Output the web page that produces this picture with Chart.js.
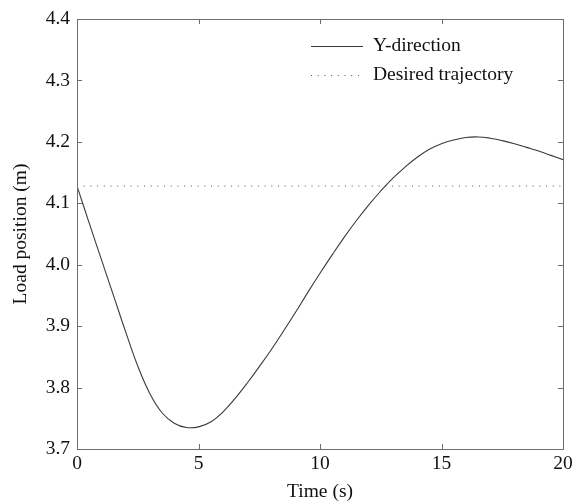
<!DOCTYPE html>
<html>
<head>
<meta charset="utf-8">
<script src="https://cdn.jsdelivr.net/npm/chart.js@4.4.0/dist/chart.umd.min.js"></script>
<style>
  html, body { margin: 0; padding: 0; background: #fff; }
  #wrap { width: 579px; height: 504px; }
</style>
</head>
<body>
<div id="wrap"><canvas id="chart" width="579" height="504"></canvas></div>
<script>
// data
const timeValues = [0, 0.5, 1, 1.5, 2, 2.5, 3, 3.5, 4, 4.5, 5, 5.5, 6, 6.5, 7, 7.5, 8, 8.5, 9, 9.5, 10,
  10.5, 11, 11.5, 12, 12.5, 13, 13.5, 14, 14.5, 15, 15.5, 16, 16.5, 17, 17.5, 18, 18.5, 19, 19.5, 20];
const yDirection = [4.128, 4.068, 4.009, 3.950, 3.891, 3.835, 3.790, 3.759, 3.742, 3.735, 3.736,
  3.744, 3.760, 3.782, 3.807, 3.834, 3.862, 3.892, 3.923, 3.955, 3.986,
  4.016, 4.045, 4.072, 4.097, 4.120, 4.141, 4.159, 4.175, 4.188, 4.197,
  4.203, 4.207, 4.208, 4.206, 4.202, 4.197, 4.191, 4.185, 4.178, 4.171];
const desiredTimes = [0, 20];
const desiredValues = [4.128, 4.128];
const legendLabels = ["Y-direction", "Desired trajectory"];

const serif = "'Liberation Serif', 'Times New Roman', serif";
const fontSize = 19.5;
const boxColor = "#6e6e6e";

// MATLAB-like box with inward ticks, plus legend in the upper right
const boxPlugin = {
  id: "boxPlugin",
  afterDraw(chart) {
    const { ctx, chartArea: a, scales } = chart;
    const xs = scales.x, ys = scales.y;
    const tl = 5;
    ctx.save();
    ctx.strokeStyle = boxColor;
    ctx.lineWidth = 1;
    ctx.strokeRect(Math.round(a.left) + 0.5, Math.round(a.top) + 0.5,
      Math.round(a.right - a.left), Math.round(a.bottom - a.top));
    ctx.beginPath();
    xs.ticks.forEach(t => {
      const px = Math.round(xs.getPixelForValue(t.value)) + 0.5;
      ctx.moveTo(px, a.bottom); ctx.lineTo(px, a.bottom - tl);
      ctx.moveTo(px, a.top); ctx.lineTo(px, a.top + tl);
    });
    ys.ticks.forEach(t => {
      const py = Math.round(ys.getPixelForValue(t.value)) + 0.5;
      ctx.moveTo(a.left, py); ctx.lineTo(a.left + tl, py);
      ctx.moveTo(a.right, py); ctx.lineTo(a.right - tl, py);
    });
    ctx.stroke();

    // legend
    const lx = 311, lw = 52, tx = 373;
    const rows = [46, 75];
    ctx.font = fontSize + "px " + serif;
    ctx.textBaseline = "middle";
    ctx.fillStyle = "#111";
    chart.data.datasets.forEach((ds, i) => {
      ctx.beginPath();
      ctx.strokeStyle = ds.borderColor;
      ctx.lineWidth = 1;
      ctx.setLineDash(ds.borderDash || []);
      ctx.moveTo(lx, rows[i] + 0.5);
      ctx.lineTo(lx + lw, rows[i] + 0.5);
      ctx.stroke();
      ctx.setLineDash([]);
      ctx.fillText(legendLabels[i], tx, rows[i]);
    });
    ctx.restore();
  }
};

const ctx = document.getElementById("chart").getContext("2d");
new Chart(ctx, {
  type: "line",
  data: {
    datasets: [
      {
        label: legendLabels[0],
        data: timeValues.map((t, i) => ({ x: t, y: yDirection[i] })),
        borderColor: "#3a3a3a",
        borderWidth: 1.1,
        pointRadius: 0,
        tension: 0.4,
        fill: false
      },
      {
        label: legendLabels[1],
        data: desiredTimes.map((t, i) => ({ x: t, y: desiredValues[i] })),
        borderColor: "#555",
        borderWidth: 1,
        borderDash: [1, 5.7],
        pointRadius: 0,
        fill: false
      }
    ]
  },
  options: {
    responsive: false,
    animation: false,
    layout: { padding: { top: 19, right: 16, left: 0, bottom: 0 } },
    plugins: { legend: { display: false }, tooltip: { enabled: false } },
    scales: {
      x: {
        type: "linear",
        min: 0, max: 20,
        grid: { display: false, drawTicks: false },
        border: { display: false },
        ticks: { stepSize: 5, padding: 3, color: "#111", font: { family: serif, size: fontSize } },
        title: { display: true, text: "Time (s)", color: "#111", font: { family: serif, size: fontSize }, padding: { top: 4, bottom: 0 } },
        afterFit(scale) { scale.height = 55; }
      },
      y: {
        type: "linear",
        min: 3.7, max: 4.4,
        grid: { display: false, drawTicks: false },
        border: { display: false },
        ticks: { stepSize: 0.1, padding: 7, color: "#111", font: { family: serif, size: fontSize },
          callback: v => v.toFixed(1) },
        title: { display: true, text: "Load position (m)", color: "#111", font: { family: serif, size: fontSize }, padding: { top: 9, bottom: 0 } },
        afterFit(scale) { scale.width = 77; }
      }
    }
  },
  plugins: [boxPlugin]
});
</script>
</body>
</html>
